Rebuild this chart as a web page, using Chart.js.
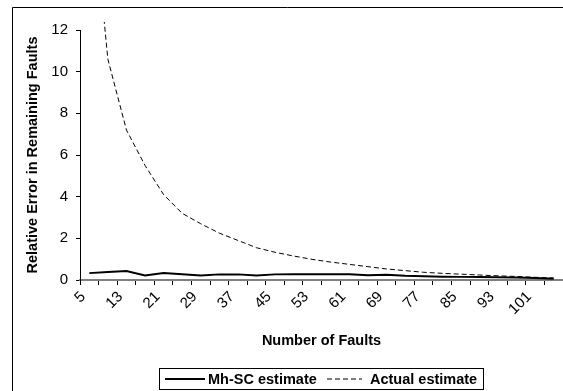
<!DOCTYPE html>
<html><head><meta charset="utf-8">
<script src="https://cdn.jsdelivr.net/npm/chart.js@4"></script>
<style>html,body{margin:0;padding:0;background:#fff}canvas{display:block}</style>
</head>
<body><canvas id="c" width="563" height="391"></canvas>
<script>
const categories = [5, 9, 13, 17, 21, 25, 29, 33, 37, 41, 45, 49, 53, 57, 61, 65, 69, 73, 77, 81, 85, 89, 93, 97, 101, 105];
const xTickLabels = ['5', '13', '21', '29', '37', '45', '53', '61', '69', '77', '85', '93', '101'];
const yTickValues = [0, 2, 4, 6, 8, 10, 12];
const mhScEstimate = [0.33, 0.38, 0.43, 0.22, 0.33, 0.28, 0.22, 0.27, 0.27, 0.22, 0.27, 0.28, 0.28, 0.28, 0.28, 0.23, 0.25, 0.2, 0.18, 0.16, 0.15, 0.14, 0.13, 0.12, 0.1, 0.06];
const actualEstimate = [19.8, 10.6, 7.2, 5.5, 4.1, 3.2, 2.7, 2.25, 1.9, 1.55, 1.33, 1.15, 0.99, 0.86, 0.75, 0.64, 0.53, 0.45, 0.37, 0.32, 0.28, 0.24, 0.2, 0.17, 0.13, 0.1];
const seriesNames = ['Mh-SC estimate', 'Actual estimate'];

const FONT = "'Liberation Sans', Arial, sans-serif";

const framePlugin = {
  id: 'frame',
  afterDraw(chart) {
    const ctx = chart.ctx;
    ctx.save();
    ctx.strokeStyle = '#000';
    ctx.lineWidth = 1;
    ctx.beginPath();
    ctx.moveTo(12.5, 391); ctx.lineTo(12.5, 7.5); ctx.lineTo(563, 7.5);
    ctx.stroke();
    // legend box
    const bx = 159.5, by = 368.5, bw = 324, bh = 21;
    ctx.strokeRect(bx, by, bw, bh);
    ctx.font = 'bold 14.5px ' + FONT;
    ctx.textBaseline = 'middle';
    ctx.textAlign = 'left';
    ctx.fillStyle = '#000';
    const cy = by + bh / 2;
    const sample = [[165, 40, 3], [327, 35, 8]];
    chart.data.datasets.forEach((ds, i) => {
      const [x, len, gap] = sample[i];
      ctx.setLineDash(ds.borderDash || []);
      ctx.lineWidth = ds.borderWidth;
      ctx.beginPath(); ctx.moveTo(x, cy); ctx.lineTo(x + len, cy); ctx.stroke();
      ctx.setLineDash([]);
      ctx.fillText(ds.label, x + len + gap, cy + 0.5);
    });
    ctx.restore();
  }
};

new Chart(document.getElementById('c'), {
  type: 'line',
  data: {
    labels: categories.map(String),
    datasets: [
      { label: seriesNames[0], data: mhScEstimate, borderColor: '#000', borderWidth: 2, pointRadius: 0, tension: 0, fill: false },
      { label: seriesNames[1], data: actualEstimate, borderColor: '#000', borderWidth: 1, borderDash: [5, 3], pointRadius: 0, tension: 0, fill: false,
        clip: { left: 0, top: 8, right: 0, bottom: 0 } }
    ]
  },
  options: {
    responsive: false,
    animation: false,
    events: [],
    layout: { padding: { left: 0, right: 0, top: 30, bottom: 36 } },
    plugins: { legend: { display: false }, tooltip: { enabled: false } },
    scales: {
      x: {
        type: 'category',
        offset: true,
        grid: { offset: true, drawOnChartArea: false, drawTicks: true, tickLength: 5, color: '#000', lineWidth: 1 },
        border: { color: '#808080', width: 2 },
        ticks: {
          autoSkip: false, minRotation: 45, maxRotation: 45, color: '#000', padding: 3, labelOffset: -6,
          font: { family: FONT, size: 15 },
          callback(v, i) { const s = String(categories[i]); return xTickLabels.includes(s) ? s : ''; }
        },
        title: { display: true, text: 'Number of Faults', color: '#000', font: { family: FONT, size: 14.5, weight: 'bold' }, padding: { top: 0, bottom: 5 } },
        afterFit(s) { s.height = 75; s.paddingLeft = 0; s.paddingRight = 0; }
      },
      y: {
        min: 0, max: 12,
        afterBuildTicks(s) { s.ticks = yTickValues.map(v => ({ value: v })); },
        grid: { drawOnChartArea: false, tickLength: 4, color: '#000' },
        border: { color: '#000', width: 1 },
        ticks: { color: '#000', font: { family: FONT, size: 15 }, padding: 8 },
        title: { display: true, text: 'Relative Error in Remaining Faults', color: '#000', font: { family: FONT, size: 14.5, weight: 'bold' }, padding: { top: 24, bottom: 0 } },
        afterFit(s) { s.width = 80; }
      }
    }
  },
  plugins: [framePlugin]
});
</script>
</body></html>
